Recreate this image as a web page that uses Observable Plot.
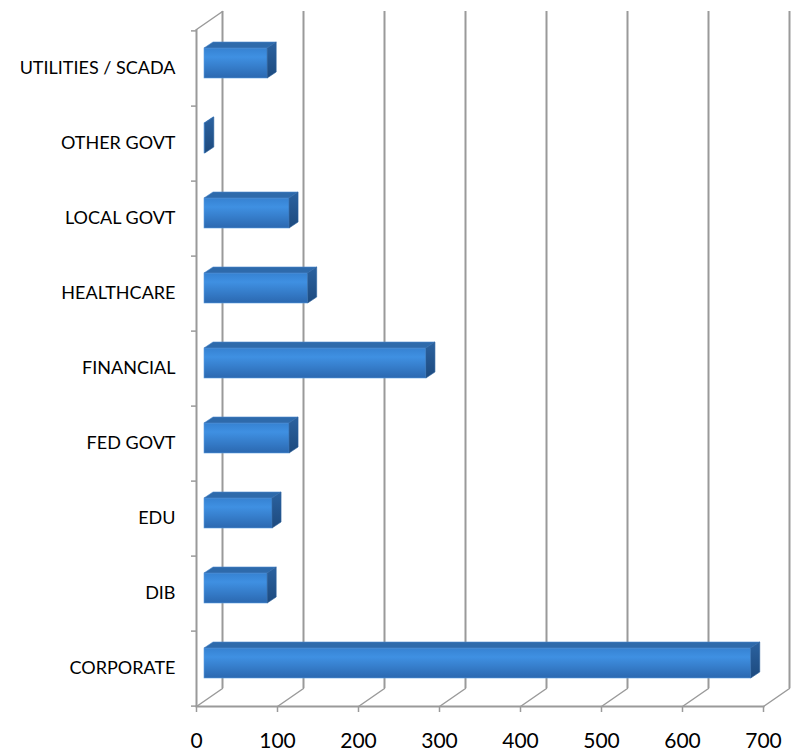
<!DOCTYPE html>
<html>
<head>
<meta charset="utf-8">
<script src="https://cdn.jsdelivr.net/npm/d3@7"></script>
<script src="https://cdn.jsdelivr.net/npm/@observablehq/plot@0.6"></script>
<style>
  html, body { margin: 0; padding: 0; background: #fff; }
  #chart svg { display: block; }
</style>
</head>
<body>
<div id="chart"></div>
<script>
// ---- data ----
const categories = ["UTILITIES / SCADA", "OTHER GOVT", "LOCAL GOVT", "HEALTHCARE", "FINANCIAL", "FED GOVT", "EDU", "DIB", "CORPORATE"];
const values = [78, 1, 105, 128, 274, 105, 84, 78, 675];
const xTicks = [0, 100, 200, 300, 400, 500, 600, 700];

const rows = categories.map((c, i) => ({category: c, value: values[i]}));

// ---- style constants (pixels) ----
const W = 802, H = 756;
const mTop = 29, mBottom = 50, mLeft = 196, mRight = 39;
const step = (H - mTop - mBottom) / categories.length;   // band step
const back = {dx: 26, dy: -18};       // depth of back wall
const barOff = {dx: 8, dy: -5};       // bar front plane
const barDepth = {dx: 9, dy: -6};     // bar thickness
const gray = "#9a9a9a";
const diagLen = Math.hypot(back.dx, back.dy);
const diagRot = Math.atan2(back.dx, -back.dy) * 180 / Math.PI;
const lineShape = {draw(context, l) { context.moveTo(0, 0); context.lineTo(0, -l); }};

const chart = Plot.plot({
  width: W,
  height: H,
  marginTop: mTop,
  marginBottom: mBottom,
  marginLeft: mLeft,
  marginRight: mRight,
  style: {fontFamily: "Lato, 'Open Sans', sans-serif", background: "#fff", color: "#000"},
  x: {domain: [0, 700]},
  y: {domain: categories, paddingInner: 0.6, paddingOuter: 0.3},
  marks: [
    // back wall gridlines
    Plot.ruleX(xTicks, {stroke: gray, strokeWidth: 2, dx: back.dx, dy: back.dy}),
    // left wall front edge
    Plot.ruleX([0], {stroke: gray, strokeWidth: 2}),
    // floor front edge
    Plot.frame({anchor: "bottom", stroke: gray, strokeWidth: 2}),
    // floor diagonals
    Plot.vectorX(xTicks, {x: d => d, frameAnchor: "bottom", anchor: "start", length: diagLen, rotate: diagRot, shape: lineShape, stroke: gray, strokeWidth: 1.5}),
    // left wall top diagonal
    Plot.vectorX([0], {x: d => d, frameAnchor: "top", anchor: "start", length: diagLen, rotate: diagRot, shape: lineShape, stroke: gray, strokeWidth: 1.5}),
    // category boundary ticks on the left wall
    Plot.axisY({tickSize: 5, tickFormat: null, stroke: gray, strokeWidth: 1.5, dy: step / 2, label: null}),
    Plot.axisY({ticks: [categories[0]], tickSize: 5, tickFormat: null, stroke: gray, strokeWidth: 1.5, dy: -step / 2, label: null}),
    // category labels
    Plot.axisY({tickSize: 0, tickPadding: 21, fontSize: 18, fill: "#000", label: null}),
    // x axis
    Plot.axisX({ticks: xTicks, tickSize: 6, tickPadding: 21, fontSize: 21, stroke: gray, strokeWidth: 1.5, fill: "#000", label: null}),
    // bars (front faces)
    Plot.barX(rows, {x: "value", y: "category", fill: "url(#barFront)", stroke: "#5d9de0", strokeWidth: 0.6, dx: barOff.dx, dy: barOff.dy, className: "bar3d"})
  ]
});

// gradients + 3D faces
const svg = d3.select(chart);
const defs = svg.insert("defs", ":first-child");
const gFront = defs.append("linearGradient").attr("id", "barFront").attr("x1", 0).attr("y1", 0).attr("x2", 0).attr("y2", 1);
gFront.append("stop").attr("offset", "0%").attr("stop-color", "#3682d2");
gFront.append("stop").attr("offset", "30%").attr("stop-color", "#3f90e2");
gFront.append("stop").attr("offset", "100%").attr("stop-color", "#2b68b0");
const gSide = defs.append("linearGradient").attr("id", "barSide").attr("x1", 0).attr("y1", 0).attr("x2", 0).attr("y2", 1);
gSide.append("stop").attr("offset", "0%").attr("stop-color", "#2b62a0");
gSide.append("stop").attr("offset", "100%").attr("stop-color", "#1d4a7e");

svg.selectAll("g.bar3d rect").each(function () {
  const r = d3.select(this);
  const x = +r.attr("x"), y = +r.attr("y"), w = +r.attr("width"), h = +r.attr("height");
  const g = d3.select(this.parentNode);
  const dx = barDepth.dx, dy = barDepth.dy;
  g.append("polygon")
    .attr("points", [[x, y], [x + w, y], [x + w + dx, y + dy], [x + dx, y + dy]].map(p => p.join(",")).join(" "))
    .attr("fill", "#2e6aab").attr("stroke", "#4a88cc").attr("stroke-width", 0.6);
  g.append("polygon")
    .attr("points", [[x + w, y], [x + w + dx, y + dy], [x + w + dx, y + h + dy], [x + w, y + h]].map(p => p.join(",")).join(" "))
    .attr("fill", "url(#barSide)").attr("stroke", "#2a5f9c").attr("stroke-width", 0.6);
});

document.getElementById("chart").appendChild(chart);
</script>
</body>
</html>
